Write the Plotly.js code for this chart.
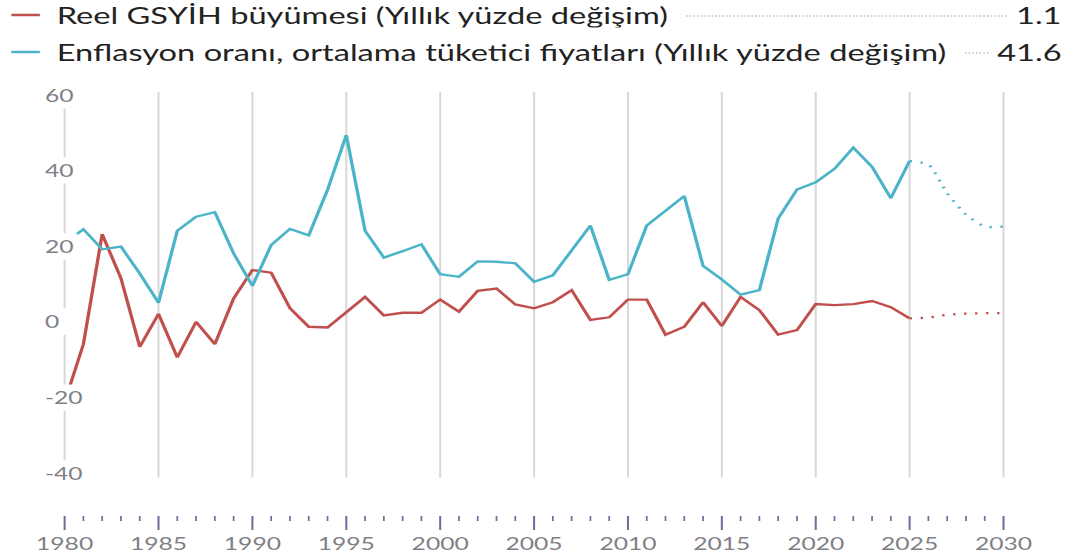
<!DOCTYPE html>
<html>
<head>
<meta charset="utf-8">
<script src="https://cdn.plot.ly/plotly-3.0.1.min.js"></script>
<style>
  html, body { margin: 0; padding: 0; background: #fff; overflow: hidden; }
  #wrap { width: 739px; height: 555px; transform: scaleX(1.4493); transform-origin: 0 0; }
  #chart { width: 739px; height: 555px; }
  #chart .gridlayer path, #chart .xtick, #chart .xtick2 { shape-rendering: geometricPrecision !important; }
</style>
</head>
<body>
<div id="wrap"><div id="chart"></div></div>
<script>
// ---- data ----
const years = [1980,1981,1982,1983,1984,1985,1986,1987,1988,1989,1990,1991,1992,1993,1994,1995,1996,1997,1998,1999,2000,2001,2002,2003,2004,2005,2006,2007,2008,2009,2010,2011,2012,2013,2014,2015,2016,2017,2018,2019,2020,2021,2022,2023,2024,2025];
const gdpGrowth = [-21.3,-5.9,23.2,11.5,-6.6,2.1,-9.4,0.0,-5.9,6.2,13.7,13.0,3.6,-1.3,-1.5,2.4,6.6,1.7,2.4,2.4,5.9,2.7,8.2,8.8,4.6,3.6,5.2,8.4,0.5,1.2,5.9,5.9,-3.4,-1.3,5.2,-1.1,6.6,3.1,-3.4,-2.2,4.7,4.4,4.7,5.5,3.9,0.9];
const inflation = [20.9,24.5,19.2,19.9,12.8,5.05,24.1,27.8,29.0,18.1,9.5,20.3,24.6,22.9,34.9,49.4,24.1,17.0,18.7,20.5,12.6,11.9,16.0,15.9,15.5,10.6,12.3,18.8,25.5,11.1,12.6,25.5,29.3,33.3,14.8,11.2,7.2,8.4,27.3,35.0,36.9,40.5,46.1,41.0,32.7,42.6];
const projYears = [2025,2026,2027,2028,2029,2030];
const gdpProj = [0.9,1.1,1.9,2.2,2.3,2.3];
const inflProj = [42.6,41.6,34.0,28.4,25.2,25.2];
const seriesNames = ['Reel GSYİH büyümesi (Yıllık yüzde değişim)', 'Enflasyon oranı, ortalama tüketici fiyatları (Yıllık yüzde değişim)'];
const seriesValues = ['1.1', '41.6'];
const yTicks = [60, 40, 20, 0, -20, -40];
const yTickLabels = ['60', '40', '20', '0', '-20', '-40'];

// ---- styling ----
const RED = '#c0504d';
const TEAL = '#4bb4c8';
const FONT = 'Lato, "Open Sans", sans-serif';
const S = 1071 / 739;            // horizontal stretch of the wrapper
const W = 739, H = 555;
const M = {l: 42.4, r: 44.4, t: 92, b: 40};
const PW = W - M.l - M.r, PH = H - M.t - M.b;
const px = v => (v / S - M.l) / PW;      // final pixel x -> paper
const py = v => (H - M.b - v) / PH;      // pixel y -> paper

const traces = [
  {x: years, y: gdpGrowth, type: 'scatter', mode: 'lines', line: {color: RED, width: 2.3}, hoverinfo: 'skip'},
  {x: years, y: inflation, type: 'scatter', mode: 'lines', line: {color: TEAL, width: 2.3}, hoverinfo: 'skip'},
  {x: projYears, y: gdpProj, type: 'scatter', mode: 'lines', line: {color: RED, width: 2.3, dash: '1.6px,6px'}, hoverinfo: 'skip'},
  {x: projYears, y: inflProj, type: 'scatter', mode: 'lines', line: {color: TEAL, width: 2.3, dash: '1.6px,6px', shape: 'spline', smoothing: 0.6}, hoverinfo: 'skip'}
];

const shapes = [];
const annotations = [];
const rowsY = [15, 52];
const colors = [RED, TEAL];
rowsY.forEach((ry, i) => {
  shapes.push({type: 'line', xref: 'paper', yref: 'paper', x0: px(60), x1: px(1050), y0: py(ry + 1), y1: py(ry + 1),
               line: {color: '#9a9a9a', width: 1, dash: '1px,1.5px'}, layer: 'below'});
  shapes.push({type: 'line', xref: 'paper', yref: 'paper', x0: px(12), x1: px(44), y0: py(ry), y1: py(ry),
               line: {color: colors[i], width: 2.5}});
  annotations.push({xref: 'paper', yref: 'paper', x: px(40), y: py(ry), xanchor: 'left', yanchor: 'middle',
                    text: seriesNames[i], showarrow: false, bgcolor: '#ffffff', borderpad: 11,
                    font: {family: FONT, size: 22.5, color: '#222222'}});
  annotations.push({xref: 'paper', yref: 'paper', x: px(1069), y: py(ry), xanchor: 'right', yanchor: 'middle',
                    text: seriesValues[i], showarrow: false, bgcolor: '#ffffff', borderpad: 5,
                    font: {family: FONT, size: 22.5, color: '#222222'}});
});

yTicks.forEach((v, i) => {
  const a = {xref: 'paper', yref: 'y', x: 0, y: v, xanchor: 'left', yanchor: 'middle', xshift: -14.4,
             text: yTickLabels[i], showarrow: false, bgcolor: '#ffffff', borderpad: 2, align: 'left',
             font: {family: FONT, size: 17, color: '#7f7f86'}};
  if (yTickLabels[i].length === 1) a.width = 20;
  annotations.push(a);
});

const layout = {
  width: W, height: H,
  margin: M,
  paper_bgcolor: '#ffffff', plot_bgcolor: '#ffffff',
  showlegend: false,
  xaxis: {
    range: [1979.8, 2030.2], anchor: 'free', position: 0,
    tick0: 1980, dtick: 5, ticks: 'outside', ticklen: 14, tickwidth: 1.4, tickcolor: '#6b6f9b',
    showgrid: true, gridcolor: '#d8d8d8', gridwidth: 1.4, zeroline: false, showline: false,
    tickfont: {family: FONT, size: 17, color: '#7f7f86'},
    minor: {dtick: 1, ticks: 'outside', ticklen: 5, tickwidth: 1.2, tickcolor: '#6b6f9b', showgrid: false}
  },
  yaxis: {
    domain: [(H - M.b - 477.6) / PH, 1], range: [-41.2, 60.8],
    showgrid: false, zeroline: false, showticklabels: false, ticks: '', showline: false
  },
  shapes: shapes,
  annotations: annotations
};

Plotly.newPlot('chart', traces, layout, {staticPlot: true, displayModeBar: false});
</script>
</body>
</html>
